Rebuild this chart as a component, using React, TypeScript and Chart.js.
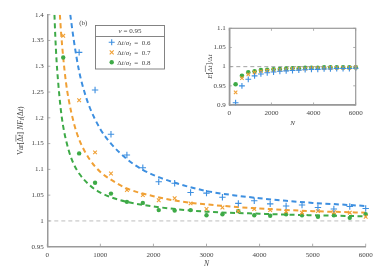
import React, { useEffect, useRef } from "react";
import { Chart, registerables } from "chart.js";
Chart.register(...registerables);

// ---------- data ----------
const BLUE_N = [600, 900, 1200, 1500, 1800, 2100, 2400, 2700, 3000, 3300, 3600, 3900, 4200, 4500, 4800, 5100, 5400, 5700, 6000];
const BLUE_VAR = [1.327, 1.254, 1.168, 1.128, 1.103, 1.076, 1.073, 1.055, 1.054, 1.046, 1.034, 1.039, 1.033, 1.029, 1.031, 1.026, 1.023, 1.028, 1.024];
const ALL_N = [300, 600, 900, 1200, 1500, 1800, 2100, 2400, 2700, 3000, 3300, 3600, 3900, 4200, 4500, 4800, 5100, 5400, 5700, 6000];
const ORANGE_VAR = [1.359, 1.234, 1.133, 1.092, 1.060, 1.050, 1.040, 1.044, 1.034, 1.023, 1.026, 1.019, 1.023, 1.021, 1.018, 1.016, 1.019, 1.017, 1.016, 1.008];
const GREEN_VAR = [1.317, 1.131, 1.074, 1.053, 1.037, 1.035, 1.021, 1.020, 1.021, 1.011, 1.013, 1.019, 1.011, 1.010, 1.013, 1.011, 1.008, 1.011, 1.006, 1.013];

const BLUE_FIT_N = [433, 500, 600, 700, 800, 1000, 1200, 1500, 1800, 2100, 2500, 3000, 3500, 4000, 4500, 5000, 5500, 6000];
const BLUE_FIT = [1.40, 1.35, 1.29, 1.25, 1.22, 1.178, 1.15, 1.12, 1.099, 1.085, 1.071, 1.058, 1.05, 1.044, 1.039, 1.035, 1.032, 1.029];
const ORANGE_FIT_N = [237, 260, 300, 350, 400, 500, 600, 800, 1000, 1200, 1500, 2000, 2500, 3000, 4000, 5000, 6000];
const ORANGE_FIT = [1.40, 1.365, 1.317, 1.27, 1.237, 1.19, 1.158, 1.119, 1.095, 1.08, 1.063, 1.048, 1.038, 1.032, 1.024, 1.019, 1.016];
const GREEN_FIT_N = [135, 150, 175, 200, 250, 300, 400, 500, 600, 800, 1000, 1200, 1500, 2000, 3000, 4000, 5000, 6000];
const GREEN_FIT = [1.40, 1.36, 1.31, 1.275, 1.22, 1.183, 1.138, 1.11, 1.092, 1.069, 1.055, 1.046, 1.037, 1.028, 1.018, 1.014, 1.011, 1.009];

const BLUE_MEAN = [0.906, 0.950, 0.967, 0.976, 0.981, 0.984, 0.986, 0.988, 0.989, 0.990, 0.991, 0.992, 0.993, 0.993, 0.994, 0.994, 0.995, 0.995, 0.995, 0.996];
const ORANGE_MEAN = [0.933, 0.970, 0.980, 0.985, 0.988, 0.990, 0.991, 0.992, 0.993, 0.994, 0.995, 0.995, 0.996, 0.996, 0.996, 0.997, 0.997, 0.997, 0.997, 0.998];
const GREEN_MEAN = [0.954, 0.976, 0.985, 0.988, 0.991, 0.992, 0.993, 0.994, 0.995, 0.996, 0.996, 0.997, 0.997, 0.997, 0.998, 0.998, 0.998, 0.998, 0.998, 0.998];

const REF_N = [0, 6000];
const REF_Y = [1, 1];
const LEGEND_TITLE = "ν = 0.95";
const LEGEND_VALUES = ["0.6", "0.7", "0.8"];

// ---------- styles ----------
const BLUE = "#3d8fe0";
const ORANGE = "#f0a035";
const GREEN = "#3eaa47";
const AXIS = "#9a9a9a";
const TXT = "#444";
const FAM = "'Liberation Serif', 'DejaVu Serif', serif";
const up = (s: number) => `${s}px ${FAM}`;
const it = (s: number) => `italic ${s}px ${FAM}`;

type Run = { t: string; f: string; dy?: number; over?: boolean };

function drawRuns(ctx: CanvasRenderingContext2D, runs: Run[], x: number, y: number, align: "left" | "center") {
  const widths = runs.map((r) => {
    ctx.font = r.f;
    return ctx.measureText(r.t).width;
  });
  const total = widths.reduce((a, b) => a + b, 0);
  let cx = align === "center" ? x - total / 2 : x;
  let overStart: number | null = null;
  ctx.textAlign = "left";
  ctx.textBaseline = "alphabetic";
  runs.forEach((r, i) => {
    ctx.font = r.f;
    if (r.over && overStart === null) overStart = cx;
    ctx.fillText(r.t, cx, y + (r.dy || 0));
    cx += widths[i];
    const next = runs[i + 1];
    if (r.over && (!next || !next.over) && overStart !== null) {
      ctx.save();
      ctx.lineWidth = 0.6;
      ctx.strokeStyle = ctx.fillStyle as string;
      ctx.beginPath();
      ctx.moveTo(overStart, y - 6.6);
      ctx.lineTo(cx, y - 6.6);
      ctx.stroke();
      ctx.restore();
      overStart = null;
    }
  });
  return total;
}

function inwardTicks(chart: any, len: number, allSides: boolean) {
  const ctx = chart.ctx as CanvasRenderingContext2D;
  const { left, right, top, bottom } = chart.chartArea;
  const xs = chart.scales.x;
  const ys = chart.scales.y;
  ctx.save();
  ctx.strokeStyle = AXIS;
  ctx.lineWidth = 0.8;
  ctx.beginPath();
  xs.ticks.forEach((t: any) => {
    const px = xs.getPixelForValue(t.value);
    ctx.moveTo(px, bottom);
    ctx.lineTo(px, bottom - len);
    if (allSides) {
      ctx.moveTo(px, top);
      ctx.lineTo(px, top + len);
    }
  });
  ys.ticks.forEach((t: any) => {
    const py = ys.getPixelForValue(t.value);
    ctx.moveTo(left, py);
    ctx.lineTo(left + len, py);
    if (allSides) {
      ctx.moveTo(right, py);
      ctx.lineTo(right - len, py);
    }
  });
  ctx.stroke();
  if (allSides) {
    ctx.lineWidth = 1.2;
    ctx.strokeRect(left, top, right - left, bottom - top);
  }
  ctx.restore();
}

const fmt = (v: number) => String(Number(v.toFixed(2)));

function pts(xs: number[], ys: number[]) {
  return xs.map((x, i) => ({ x, y: ys[i] }));
}

const mainExtras = {
  id: "mainExtras",
  afterDraw(chart: any) {
    const ctx = chart.ctx as CanvasRenderingContext2D;
    inwardTicks(chart, 3, false);
    ctx.save();
    ctx.fillStyle = TXT;
    // x title
    drawRuns(ctx, [{ t: "N", f: it(7.5) }], (chart.chartArea.left + chart.chartArea.right) / 2, 265.5, "center");
    // y title
    ctx.save();
    ctx.translate(22.5, (chart.chartArea.top + chart.chartArea.bottom) / 2);
    ctx.rotate(-Math.PI / 2);
    drawRuns(
      ctx,
      [
        { t: "Var", f: up(7.5) },
        { t: "[", f: up(8.5) },
        { t: "Δ", f: up(7.5), over: true },
        { t: "t", f: it(7.5), over: true },
        { t: "] ", f: up(8.5) },
        { t: "N", f: it(7.5) },
        { t: "F", f: it(7.5) },
        { t: "I", f: it(5.5), dy: 1.8 },
        { t: "(Δ", f: up(7.5) },
        { t: "t", f: it(7.5) },
        { t: ")", f: up(7.5) },
      ],
      0,
      0,
      "center"
    );
    ctx.restore();
    // (b)
    drawRuns(ctx, [{ t: "(b)", f: up(7) }], 83.3, 25, "center");
    // legend
    const lx = 95.5, ly = 25.5, lw = 69, lh = 43.5;
    ctx.fillStyle = "#fff";
    ctx.fillRect(lx, ly, lw, lh);
    ctx.strokeStyle = "#777";
    ctx.lineWidth = 0.9;
    ctx.strokeRect(lx, ly, lw, lh);
    ctx.beginPath();
    ctx.moveTo(lx, 36.5);
    ctx.lineTo(lx + lw, 36.5);
    ctx.stroke();
    ctx.fillStyle = TXT;
    drawRuns(ctx, [{ t: "ν", f: it(7) }, { t: " = " + LEGEND_TITLE.split("= ")[1], f: up(7) }], lx + lw / 2, 33.2, "center");
    const cols = [BLUE, ORANGE, GREEN];
    const cys = [42.3, 52.3, 62.3];
    cys.forEach((cy, i) => {
      const mx = 111.7;
      ctx.strokeStyle = cols[i];
      ctx.fillStyle = cols[i];
      ctx.lineWidth = 1.1;
      ctx.beginPath();
      if (i === 0) {
        ctx.moveTo(mx - 3, cy); ctx.lineTo(mx + 3, cy);
        ctx.moveTo(mx, cy - 3); ctx.lineTo(mx, cy + 3);
        ctx.stroke();
      } else if (i === 1) {
        ctx.moveTo(mx - 2, cy - 2); ctx.lineTo(mx + 2, cy + 2);
        ctx.moveTo(mx - 2, cy + 2); ctx.lineTo(mx + 2, cy - 2);
        ctx.stroke();
      } else {
        ctx.arc(mx, cy, 2.2, 0, Math.PI * 2);
        ctx.fill();
      }
      ctx.fillStyle = TXT;
      drawRuns(
        ctx,
        [
          { t: "Δ", f: up(7) },
          { t: "t", f: it(7) },
          { t: "/", f: up(7) },
          { t: "σ", f: it(7) },
          { t: "I", f: it(5), dy: 1.6 },
          { t: "  =  " + LEGEND_VALUES[i], f: up(7) },
        ],
        117.3,
        cy + 2.5,
        "left"
      );
    });
    ctx.restore();
  },
};

const insetExtras = {
  id: "insetExtras",
  afterDraw(chart: any) {
    const ctx = chart.ctx as CanvasRenderingContext2D;
    inwardTicks(chart, 2.5, true);
    ctx.save();
    ctx.fillStyle = TXT;
    drawRuns(ctx, [{ t: "N", f: it(7) }], (chart.chartArea.left + chart.chartArea.right) / 2, 110, "center");
    ctx.save();
    ctx.translate(27, (chart.chartArea.top + chart.chartArea.bottom) / 2);
    ctx.rotate(-Math.PI / 2);
    drawRuns(
      ctx,
      [
        { t: "E", f: it(7) },
        { t: "[", f: up(8) },
        { t: "Δ", f: up(7), over: true },
        { t: "t", f: it(7), over: true },
        { t: "]", f: up(8) },
        { t: "/Δ", f: up(7) },
        { t: "t", f: it(7) },
      ],
      0,
      0,
      "center"
    );
    ctx.restore();
    ctx.restore();
  },
};

function axisCommon(min: number, max: number, step: number, fitKey: "width" | "height", fitVal: number, pad: number) {
  return {
    type: "linear" as const,
    min,
    max,
    ticks: {
      stepSize: step,
      font: { family: FAM, size: 7 },
      color: TXT,
      padding: pad,
      maxRotation: 0,
      callback: (v: any) => fmt(Number(v)),
    },
    grid: { drawOnChartArea: false, drawTicks: false },
    border: { display: true, color: AXIS, width: 1.5 },
    afterFit: (s: any) => {
      s[fitKey] = fitVal;
    },
  };
}

function markerSets(xsB: number[], b: number[], xs: number[], o: number[], g: number[], big: boolean) {
  return [
    { data: pts(xsB, b), showLine: false, pointStyle: "cross", pointRadius: big ? 3.2 : 2.9, borderColor: BLUE, backgroundColor: BLUE, pointBorderWidth: 1.1, clip: false },
    { data: pts(xs, o), showLine: false, pointStyle: "crossRot", pointRadius: big ? 2.6 : 2.4, borderColor: ORANGE, backgroundColor: ORANGE, pointBorderWidth: 1.1, clip: false },
    { data: pts(xs, g), showLine: false, pointStyle: "circle", pointRadius: big ? 2.2 : 2.3, borderColor: GREEN, backgroundColor: GREEN, pointBorderWidth: 0, clip: false },
  ];
}

function curve(xs: number[], ys: number[], color: string) {
  return {
    data: pts(xs, ys),
    showLine: true,
    pointRadius: 0,
    borderColor: color,
    borderWidth: 2,
    borderDash: [5, 3.5],
    cubicInterpolationMode: "monotone",
  };
}

function refLine(color: string) {
  return { data: pts(REF_N, REF_Y), showLine: true, pointRadius: 0, borderColor: color, borderWidth: 0.9, borderDash: [4, 3] };
}

export default function App() {
  const mainRef = useRef<HTMLCanvasElement>(null);
  const insetRef = useRef<HTMLCanvasElement>(null);

  useEffect(() => {
    const main = new Chart(mainRef.current as HTMLCanvasElement, {
      type: "scatter",
      data: {
        datasets: [
          ...markerSets(BLUE_N, BLUE_VAR, ALL_N, ORANGE_VAR, GREEN_VAR, true),
          curve(BLUE_FIT_N, BLUE_FIT, BLUE),
          curve(ORANGE_FIT_N, ORANGE_FIT, ORANGE),
          curve(GREEN_FIT_N, GREEN_FIT, GREEN),
          refLine("#b5b5b5"),
        ] as any,
      },
      options: {
        responsive: false,
        animation: false,
        events: [],
        layout: { padding: { top: 14.7, right: 23.3, left: 0, bottom: 0 } },
        plugins: { legend: { display: false }, tooltip: { enabled: false } },
        scales: {
          x: axisCommon(0, 6000, 1000, "height", 31.3, 4) as any,
          y: axisCommon(0.95, 1.4, 0.05, "width", 47.3, 3.5) as any,
        },
      },
      plugins: [mainExtras],
    });
    const inset = new Chart(insetRef.current as HTMLCanvasElement, {
      type: "scatter",
      data: {
        datasets: [
          ...markerSets(ALL_N, BLUE_MEAN, ALL_N, ORANGE_MEAN, GREEN_MEAN, false),
          refLine("#999"),
        ] as any,
      },
      options: {
        responsive: false,
        animation: false,
        events: [],
        layout: { padding: { top: 13.3, right: 24.3, left: 0, bottom: 0 } },
        plugins: { legend: { display: false }, tooltip: { enabled: false } },
        scales: {
          x: axisCommon(0, 6000, 2000, "height", 30, 4) as any,
          y: axisCommon(0.9, 1.1, 0.05, "width", 44.3, 3.5) as any,
        },
      },
      plugins: [insetExtras],
    });
    return () => {
      main.destroy();
      inset.destroy();
    };
  }, []);

  return (
    <div style={{ position: "fixed", left: 0, top: 0, width: 389, height: 278, background: "#fff" }}>
      <canvas ref={mainRef} width={389} height={278} style={{ position: "absolute", left: 0, top: 0 }} />
      <canvas ref={insetRef} width={195} height={120} style={{ position: "absolute", left: 185, top: 15 }} />
    </div>
  );
}
